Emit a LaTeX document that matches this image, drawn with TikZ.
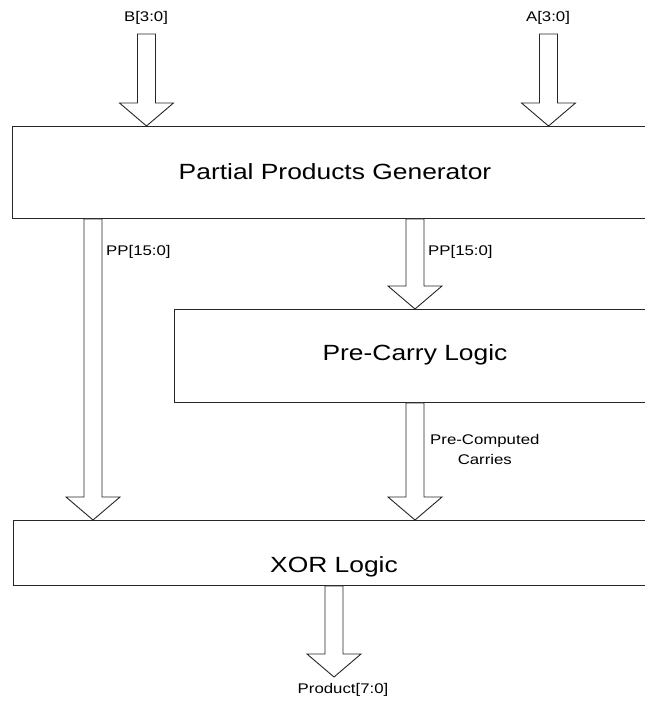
\documentclass[tikz,border=0pt]{standalone}
\usepackage{fontspec}
\setmainfont{Liberation Sans}
\usetikzlibrary{calc}

\newcommand{\wtext}[1]{\scalebox{1.2}[1]{#1}}
% fat bus arrow, straight down from #1 to the tip at #2
\newcommand{\busarrow}[2]{%
  \draw[bus] let \p1=(#1), \p2=(#2) in
    (\x1-9pt,\y1) -- (\x1-9pt,\y2+23pt) -- (\x1-27pt,\y2+23pt) -- (\x1,\y2)
    -- (\x1+27pt,\y2+23pt) -- (\x1+9pt,\y2+23pt) -- (\x1+9pt,\y1) -- cycle;}

\begin{document}
\begin{tikzpicture}[x=1pt,y=-1pt,
    block/.style={draw=black!85, line width=0.9pt, anchor=north west,
      inner sep=0pt, minimum width=720pt},
    title/.style={font=\fontsize{22}{26}\selectfont, inner sep=0pt},
    bus/.style={draw=black!85, line width=0.9pt, fill=white},
    sig/.style={font=\fontsize{14}{20}\selectfont, inner sep=0pt}]
  \useasboundingbox (0,0) rectangle (645,702);
  \clip (0,0) rectangle (645,702);

  \node[block, minimum height=92pt] (ppg) at (12,126) {};
  \node[block, minimum height=93pt] (pcl) at (174,309) {};
  \node[block, minimum height=65pt] (xor) at (13,520) {};

  \node[title] (tppg) at (335,172) {\wtext{Partial Products Generator}};
  \node[title] (tpcl) at (415,355) {\wtext{Pre-Carry Logic}};
  \node[title] (txor) at (334,567) {\wtext{XOR Logic}};

  \coordinate (bin) at (146.5,34);
  \coordinate (ain) at (548.5,34);
  \coordinate (ppl) at (93,0);
  \coordinate (ppr) at (415,0);
  \coordinate (prod) at (334,677);

  \busarrow{bin}{bin |- ppg.north}
  \busarrow{ain}{ain |- ppg.north}
  \busarrow{ppl |- ppg.south}{ppl |- xor.north}
  \busarrow{ppr |- ppg.south}{ppr |- pcl.north}
  \busarrow{ppr |- pcl.south}{ppr |- xor.north}
  \busarrow{prod |- xor.south}{prod}

  \node[sig] (lb) at (146,18) {\wtext{B[3:0]}};
  \node[sig] (la) at (548,18) {\wtext{A[3:0]}};
  \node[sig, anchor=west] (lppl) at (106,252) {\wtext{PP[15:0]}};
  \node[sig, anchor=west] (lppr) at (428,252) {\wtext{PP[15:0]}};
  \node[sig, anchor=west, align=center] (lpc) at (430,449)
    {\wtext{Pre-Computed}\\\wtext{Carries}};
  \node[sig] (lprod) at (343,690) {\wtext{Product[7:0]}};
\end{tikzpicture}
\end{document}
